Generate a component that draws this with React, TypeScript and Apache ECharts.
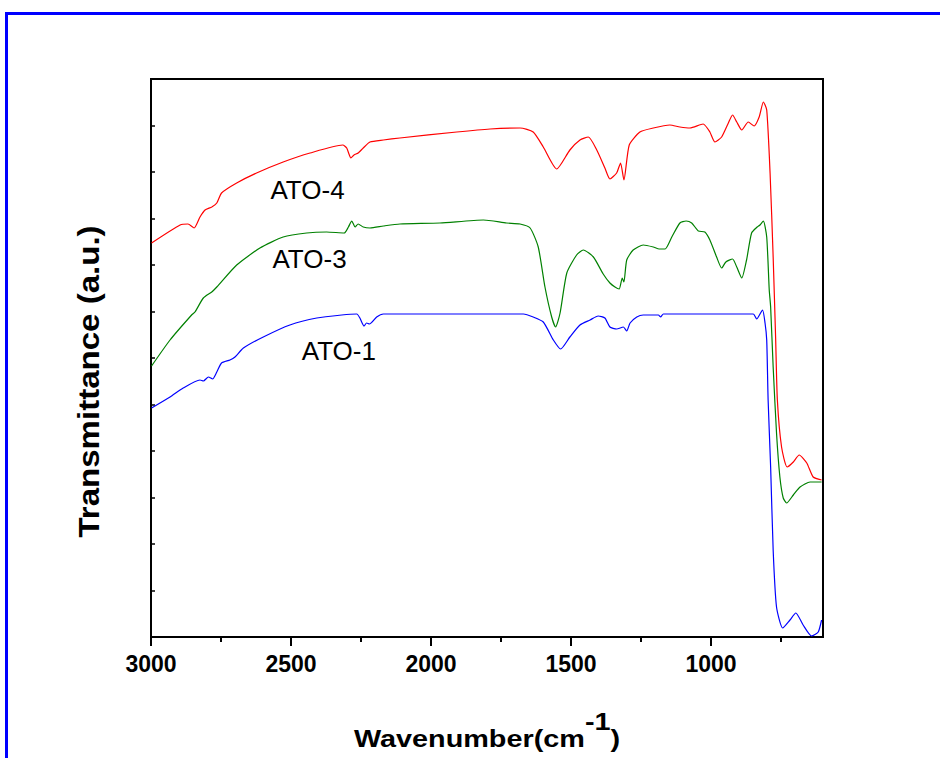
import React, { useEffect, useRef } from "react";
import * as echarts from "echarts";

// [wavenumber (cm-1), transmittance (a.u.)]
const ato4: [number, number][] = [
  [2998, 394], [2896, 412], [2868, 413], [2846, 409], [2825, 420], [2807, 427], [2783, 430],
  [2765, 434], [2748, 444], [2694, 454], [2623, 464], [2528, 475], [2432, 484], [2315, 492],
  [2301, 489], [2286, 479], [2275, 482], [2260, 484], [2242, 489], [2218, 495], [2170, 497],
  [2111, 499], [1908, 505], [1789, 508], [1682, 509], [1635, 505], [1599, 490], [1551, 468],
  [1504, 487], [1468, 497], [1438, 500], [1408, 487], [1379, 469], [1361, 458], [1337, 464],
  [1323, 474], [1311, 457], [1292, 492], [1254, 505], [1206, 509], [1147, 512], [1111, 510],
  [1075, 509], [1028, 513], [1004, 505], [986, 495], [962, 500], [938, 514], [923, 522],
  [908, 515], [890, 507], [867, 515], [846, 511], [828, 520], [813, 535], [801, 527],
  [789, 464], [778, 380], [769, 297], [763, 237], [748, 190], [728, 170], [706, 175],
  [685, 182], [658, 174], [635, 160], [605, 157],
];

const ato3: [number, number][] = [
  [2998, 271], [2932, 297], [2855, 322], [2843, 325], [2813, 339], [2783, 345], [2765, 350],
  [2694, 372], [2611, 389], [2528, 400], [2444, 404], [2373, 405], [2310, 404], [2295, 410],
  [2283, 416], [2271, 410], [2260, 413], [2242, 410], [2218, 409], [2170, 411], [2111, 413],
  [1968, 414], [1813, 417], [1730, 414], [1682, 413], [1646, 409], [1617, 390], [1593, 350],
  [1569, 320], [1555, 310], [1539, 324], [1515, 364], [1480, 382], [1456, 387], [1420, 380],
  [1385, 363], [1361, 354], [1343, 350], [1328, 348], [1317, 359], [1311, 355], [1301, 377],
  [1278, 387], [1242, 392], [1206, 390], [1185, 388], [1164, 388], [1140, 400], [1111, 414],
  [1089, 416], [1069, 414], [1045, 406], [1022, 405], [1004, 397], [980, 380], [962, 369],
  [947, 375], [923, 378], [908, 370], [890, 359], [873, 377], [855, 404], [835, 410],
  [825, 412], [813, 416], [801, 400], [792, 347], [787, 330], [778, 270], [766, 204],
  [754, 160], [742, 139], [730, 134], [706, 142], [682, 150], [646, 155], [605, 155],
];

const ato1: [number, number][] = [
  [2998, 229], [2932, 240], [2885, 249], [2825, 257], [2813, 256], [2795, 260], [2780, 258],
  [2765, 265], [2748, 274], [2718, 277], [2700, 280], [2670, 289], [2599, 300], [2504, 312],
  [2408, 319], [2319, 322], [2265, 323], [2254, 319], [2239, 311], [2230, 314], [2220, 313],
  [2194, 320], [2170, 323], [2111, 323], [1670, 323], [1635, 320], [1599, 315], [1563, 297],
  [1537, 288], [1504, 300], [1468, 312], [1432, 317], [1403, 321], [1379, 319], [1361, 310],
  [1337, 308], [1313, 310], [1301, 306], [1289, 314], [1265, 320], [1242, 322], [1188, 322],
  [1180, 320], [1170, 323], [849, 323], [837, 318], [816, 327], [807, 314], [801, 297],
  [796, 237], [787, 170], [778, 87], [766, 30], [744, 9], [718, 17], [697, 24], [671, 12],
  [641, 1], [617, 5], [605, 17],
];

const majorTicks = [1000, 1500, 2000, 2500, 3000];
const minorTicks = [750, 1250, 1750, 2250, 2750];
const seriesNames = ["ATO-4", "ATO-3", "ATO-1"];
const seriesColors = ["#ff0000", "#008000", "#0000ff"];

export default function App() {
  const ref = useRef<HTMLDivElement>(null);
  useEffect(() => {
    if (!ref.current) return;
    const chart = echarts.init(ref.current, undefined, { renderer: "svg" });
    const baseX = {
      type: "value",
      min: 600,
      max: 3000,
      inverse: true,
      gridIndex: 0,
      position: "bottom",
      splitLine: { show: false },
    };
    chart.setOption({
      animation: false,
      backgroundColor: "#ffffff",
      grid: {
        left: 151,
        top: 79,
        width: 672,
        height: 558,
        show: true,
        borderColor: "#000",
        borderWidth: 2,
        backgroundColor: "transparent",
      },
      xAxis: [
        {
          ...baseX,
          axisLine: { show: true, lineStyle: { color: "#000", width: 2 } },
          axisTick: {
            show: true,
            inside: false,
            length: 9,
            customValues: majorTicks,
            lineStyle: { color: "#000", width: 2 },
          },
          axisLabel: {
            show: true,
            customValues: majorTicks,
            formatter: (v: number) => String(v),
            margin: 15,
            color: "#000",
            fontSize: 23,
            fontWeight: "bold",
            fontFamily: "Liberation Sans, Arial, sans-serif",
          },
        },
        {
          ...baseX,
          axisLine: { show: false },
          axisTick: {
            show: true,
            inside: false,
            length: 5,
            customValues: minorTicks,
            lineStyle: { color: "#000", width: 2 },
          },
          axisLabel: { show: false },
        },
      ],
      yAxis: {
        type: "value",
        min: 0,
        max: 558,
        interval: 46.5,
        axisLine: { show: true, lineStyle: { color: "#000", width: 2 } },
        axisTick: { show: true, inside: true, length: 4, lineStyle: { color: "#000", width: 1.5 } },
        axisLabel: { show: false },
        splitLine: { show: false },
      },
      series: [ato4, ato3, ato1].map((d, i) => ({
        name: seriesNames[i],
        type: "line",
        data: d,
        xAxisIndex: 0,
        showSymbol: false,
        smooth: 0.2,
        lineStyle: { color: seriesColors[i], width: 1.2 },
        itemStyle: { color: seriesColors[i] },
      })),
      graphic: [
        {
          type: "rect",
          shape: { x: 6.5, y: 13.5, width: 1000, height: 1000 },
          style: { fill: "none", stroke: "#0000ff", lineWidth: 3 },
          silent: true,
        },
        {
          type: "text",
          x: 307.5,
          y: 190,
          style: {
            text: seriesNames[0],
            fontSize: 26,
            fontFamily: "Liberation Sans, Arial, sans-serif",
            fill: "#000",
            textAlign: "center",
            textVerticalAlign: "middle",
          },
        },
        {
          type: "text",
          x: 309.5,
          y: 259,
          style: {
            text: seriesNames[1],
            fontSize: 26,
            fontFamily: "Liberation Sans, Arial, sans-serif",
            fill: "#000",
            textAlign: "center",
            textVerticalAlign: "middle",
          },
        },
        {
          type: "text",
          x: 338.8,
          y: 351,
          style: {
            text: seriesNames[2],
            fontSize: 26,
            fontFamily: "Liberation Sans, Arial, sans-serif",
            fill: "#000",
            textAlign: "center",
            textVerticalAlign: "middle",
          },
        },
        {
          type: "text",
          x: 89,
          y: 381.5,
          rotation: Math.PI / 2,
          scaleX: 1.14,
          style: {
            text: "Transmittance (a.u.)",
            fontSize: 29,
            fontWeight: "bold",
            fontFamily: "Liberation Sans, Arial, sans-serif",
            fill: "#000",
            textAlign: "center",
            textVerticalAlign: "middle",
          },
        },
        {
          type: "text",
          x: 487,
          y: 751,
          scaleX: 1.2,
          style: {
            text: "{n|Wavenumber(cm}{s|-1}{n|)}",
            fontSize: 24,
            fontWeight: "bold",
            fontFamily: "Liberation Sans, Arial, sans-serif",
            fill: "#000",
            textAlign: "center",
            textVerticalAlign: "bottom",
            rich: {
              n: {
                fontSize: 24,
                fontWeight: "bold",
                fontFamily: "Liberation Sans, Arial, sans-serif",
                fill: "#000",
                verticalAlign: "bottom",
              },
              s: {
                fontSize: 24,
                fontWeight: "bold",
                fontFamily: "Liberation Sans, Arial, sans-serif",
                fill: "#000",
                verticalAlign: "top",
                padding: [0, 0, 17, 0],
              },
            },
          },
        },
      ],
    });
    return () => chart.dispose();
  }, []);
  return (
    <div
      ref={ref}
      style={{ position: "fixed", left: 0, top: 0, width: 940, height: 758 }}
    />
  );
}
